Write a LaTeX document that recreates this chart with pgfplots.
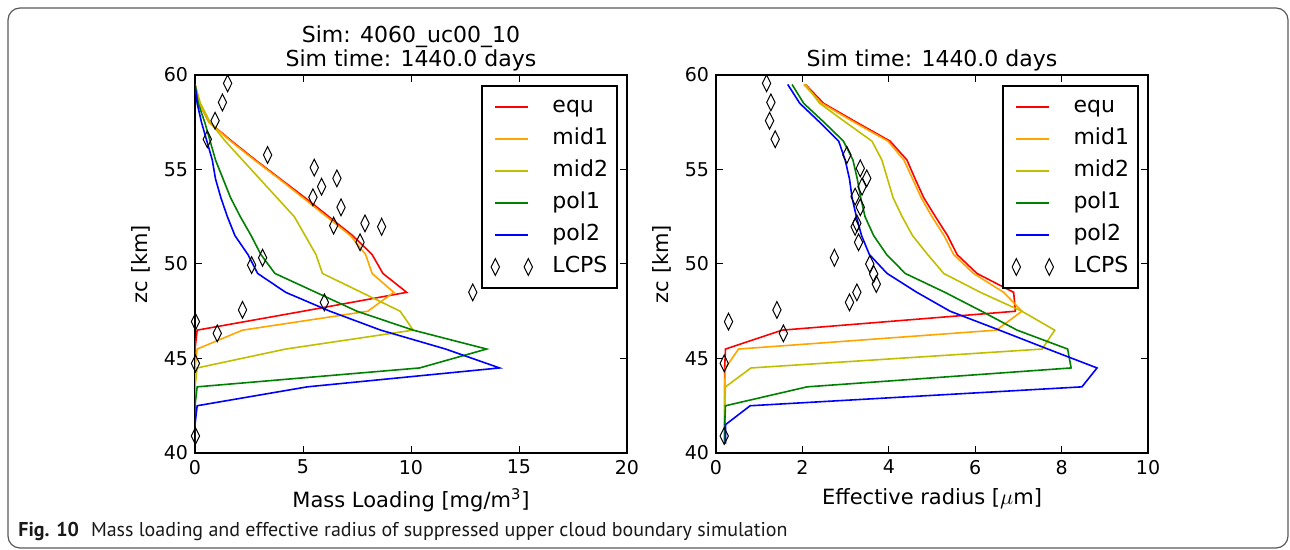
\documentclass[border=0pt]{standalone}
\usepackage{fontspec}
\setmainfont{DejaVu Sans}
\newfontfamily\capfont{PT Sans}
\usepackage{pgfplots}
\pgfplotsset{compat=1.18}
\usepackage{pgfplotstable}

\definecolor{cequ}{RGB}{255,0,0}
\definecolor{cmid1}{RGB}{255,165,0}
\definecolor{cmid2}{RGB}{191,191,0}
\definecolor{cpol1}{RGB}{0,128,0}
\definecolor{cpol2}{RGB}{0,0,255}

% mass loading [mg/m3] per latitude band
\pgfplotstableread{
z    equ   mid1  mid2  pol1  pol2
40.5 0.0   0.0   0.0   0.0   0.0
41.5 0.0   0.0   0.0   0.0   0.0
42.5 0.0   0.0   0.0   0.0   0.1
43.5 0.0   0.0   0.0   0.1   5.2
44.5 0.0   0.0   0.1   10.4  14.1
45.5 0.0   0.1   4.2   13.5  11.6
46.5 0.1   2.2   10.1  10.1  8.6
47.5 5.0   8.0   9.5   7.5   6.25
48.5 9.8   9.2   7.7   5.6   4.2
49.5 8.7   8.2   5.9   3.7   2.9
50.5 8.2   7.9   5.6   3.05  2.45
51.5 7.3   7.2   5.1   2.6   1.85
52.5 6.2   6.1   4.6   2.1   1.5
53.5 5.1   5.0   3.8   1.65  1.2
54.5 3.95  3.9   3.0   1.3   0.95
55.5 2.8   2.75  2.2   0.95  0.8
56.5 1.7   1.65  1.4   0.7   0.55
57.5 0.65  0.65  0.7   0.45  0.3
58.5 0.2   0.2   0.25  0.15  0.1
59.5 0.0   0.0   0.0   0.0   0.0
}\massload

% effective radius [um]
\pgfplotstableread{
z    equ   mid1  mid2  pol1  pol2
40.5 0.2   0.2   0.2   0.2   0.22
41.5 0.2   0.2   0.2   0.2   0.22
42.5 0.2   0.2   0.2   0.22  0.79
43.5 0.2   0.2   0.22  2.11  8.47
44.5 0.2   0.22  0.81  8.22  8.82
45.5 0.22  0.52  7.55  8.14  7.68
46.5 1.53  6.49  7.84  6.97  6.56
47.5 6.93  7.08  7.08  6.15  5.42
48.5 6.89  6.66  6.12  5.3   4.65
49.5 6.04  5.96  5.27  4.38  3.96
50.5 5.58  5.5   4.9   3.95  3.55
51.5 5.36  5.28  4.55  3.65  3.37
52.5 5.08  5.0   4.31  3.45  3.25
53.5 4.81  4.75  4.1   3.35  3.15
54.5 4.61  4.55  3.97  3.27  3.09
55.5 4.42  4.35  3.84  3.17  2.99
56.5 4.03  3.98  3.61  2.95  2.84
57.5 3.25  3.2   3.0   2.5   2.4
58.5 2.49  2.45  2.4   2.03  1.94
59.5 2.07  2.03  2.07  1.76  1.66
}\reffrad

\pgfplotstableread{
x     z
1.51  59.56
1.27  58.55
0.93  57.58
0.57  56.6
3.36  55.77
5.52  55.1
6.57  54.53
5.86  54.09
5.46  53.53
6.76  53.0
6.42  52.03
7.87  52.15
8.64  51.97
7.64  51.15
3.13  50.33
2.62  49.94
5.99  47.97
12.86 48.5
2.2   47.57
1.03  46.33
0.02  46.95
0.02  44.74
0.02  40.9
}\lcpsmass

\pgfplotstableread{
x     z
1.17  59.56
1.27  58.55
1.24  57.58
1.37  56.6
3.03  55.77
3.34  55.06
3.49  54.53
3.38  54.09
3.22  53.56
3.34  53.0
3.26  52.15
3.22  51.97
3.3   51.15
2.74  50.33
3.56  50.0
3.65  49.47
3.71  48.94
3.26  48.5
3.09  47.97
1.41  47.57
0.29  46.95
1.56  46.33
0.19  44.74
0.19  40.9
}\lcpsreff

\pgfplotsset{
  venus/.style={
    scale only axis, width=216pt, height=189pt,
    ymin=40, ymax=60, ytick={40,45,...,60},
    axis line style={line width=0.9pt},
    tick align=inside, major tick length=3.5pt,
    every tick/.style={black, line width=0.5pt},
    tick label style={font=\fontsize{9.5}{11}\selectfont},
    label style={font=\fontsize{10.5}{13}\selectfont},
    title style={font=\fontsize{11}{10.5}\selectfont, align=center, at={(0.5,1)}, anchor=south, inner sep=0pt, yshift=-4pt},
    /pgf/number format/assume math mode=true,
    ylabel={zc [km]},
    legend cell align=left,
    legend style={at={(1,1)}, anchor=north east, xshift=-5pt, yshift=-5.5pt,
      draw=black, line width=0.8pt, inner xsep=4.5pt, inner ysep=5pt, outer sep=0pt,
      font=\fontsize{11}{13}\selectfont, row sep=5pt,
      nodes={inner sep=0pt, text height=8.5pt, text depth=2.5pt},
      /tikz/every odd column/.append style={column sep=10pt}},
    legend image code/.code={\draw[#1] (0pt,0pt) -- (16.5pt,0pt);},
    every axis plot/.append style={line width=0.8pt},
  },
  lcps/.style={only marks, mark=diamond, mark size=4.2pt,
    mark options={xscale=0.66, line width=0.5pt, draw=black, fill=none},
    legend image code/.code={\draw[#1] plot coordinates {(0pt,0pt) (16.5pt,0pt)};}},
}

\begin{document}
\begin{tikzpicture}[x=1pt,y=1pt]
\useasboundingbox (0,0) rectangle (645,275);
\draw[rounded corners=6pt, color=black!65, line width=0.6pt] (4,1) rectangle (644,271);

\begin{axis}[venus, at={(97.5pt,48.5pt)}, anchor=south west,
  xmin=0, xmax=20, xtick={0,5,...,20},
  xlabel={Mass Loading [mg/m\textsuperscript{3}]},
  title={Sim: 4060\_uc00\_10\\Sim time: 1440.0 days}]
\addplot[cequ] table[x=equ, y=z] {\massload};
\addlegendentry{equ}
\addplot[cmid1] table[x=mid1, y=z] {\massload};
\addlegendentry{mid1}
\addplot[cmid2] table[x=mid2, y=z] {\massload};
\addlegendentry{mid2}
\addplot[cpol1] table[x=pol1, y=z] {\massload};
\addlegendentry{pol1}
\addplot[cpol2] table[x=pol2, y=z] {\massload};
\addlegendentry{pol2}
\addplot[lcps] table[x=x, y=z] {\lcpsmass};
\addlegendentry{LCPS}
\end{axis}

\begin{axis}[venus, at={(358pt,48.5pt)}, anchor=south west,
  xmin=0, xmax=10, xtick={0,2,...,10},
  xlabel={Effective radius [$\mu$m]},
  title={Sim time: 1440.0 days}]
\addplot[cequ] table[x=equ, y=z] {\reffrad};
\addlegendentry{equ}
\addplot[cmid1] table[x=mid1, y=z] {\reffrad};
\addlegendentry{mid1}
\addplot[cmid2] table[x=mid2, y=z] {\reffrad};
\addlegendentry{mid2}
\addplot[cpol1] table[x=pol1, y=z] {\reffrad};
\addlegendentry{pol1}
\addplot[cpol2] table[x=pol2, y=z] {\reffrad};
\addlegendentry{pol2}
\addplot[lcps] table[x=x, y=z] {\lcpsreff};
\addlegendentry{LCPS}
\end{axis}

\node[anchor=base west, inner sep=0pt, font=\capfont\fontsize{10}{12}\selectfont, text=black!90]
  at (9,6.5) {\textbf{Fig. 10}\hspace{0.6em}Mass loading and effective radius of suppressed upper cloud boundary simulation};
\end{tikzpicture}
\end{document}
